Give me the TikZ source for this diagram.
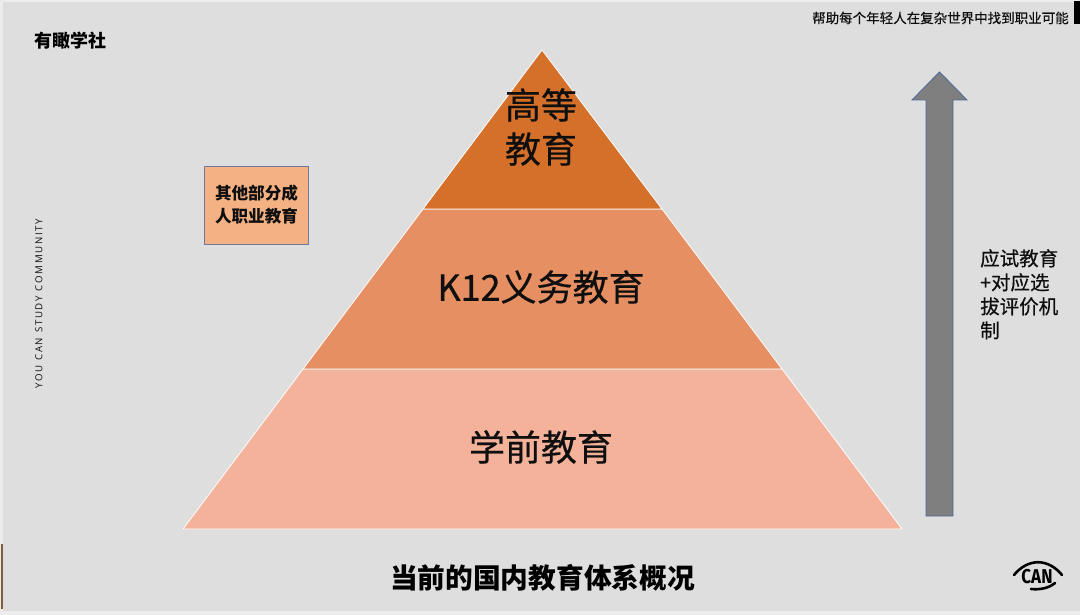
\documentclass[tikz,border=0pt]{standalone}
\usepackage{fontspec}
\usepackage[usenames,svgnames]{xcolor}
\usepackage{tikz}
\usetikzlibrary{positioning,arrows}
\setmainfont{Noto Sans CJK SC}
\newfontfamily\medfont[FakeBold=0.5]{Noto Sans CJK SC}
\newfontfamily\canfont{Fira Sans}
\newfontfamily\latinfont{Open Sans}
\definecolor{colorpage}  {RGB}{222,222,222}
\definecolor{coloredge}  {RGB}{236,236,236}
\definecolor{colortop}   {RGB}{213,112,43 }
\definecolor{colormid}   {RGB}{230,143,98 }
\definecolor{colorlow}   {RGB}{244,178,155}
\definecolor{colorbox}   {RGB}{244,177,131}
\definecolor{colorline}  {RGB}{112,120,160}
\definecolor{colorarrow} {RGB}{127,127,127}
\definecolor{colorborder}{RGB}{80 ,105,160}
\definecolor{colorbrown} {RGB}{125,95 ,60 }
\definecolor{colortext}  {RGB}{15 ,15 ,15 }

\begin{document}
\begin{tikzpicture}[
    x=1pt, y=-1pt,
    tier/.style={draw=white,line width=0.8pt,line join=round},
    txt/.style={text=colortext,inner sep=0pt,align=center},
    big/.style={txt,font={\fontsize{36}{44}\selectfont\medfont}},
]
    \useasboundingbox (0,0) rectangle (1080,615);
    \fill[coloredge] (0,0) rectangle (1080,615);
    \fill[colorpage] (3,2) rectangle (1080,611);

    % pyramid
    \coordinate (apex) at (542,50);
    \coordinate (topL) at (423,209);
    \coordinate (topR) at (662,209);
    \coordinate (midL) at (303,369);
    \coordinate (midR) at (782,369);
    \coordinate (lowL) at (183,529);
    \coordinate (lowR) at (902,529);
    \filldraw[tier,fill=colorlow] (midL) -- (midR) -- (lowR) -- (lowL) -- cycle;
    \filldraw[tier,fill=colormid] (topL) -- (topR) -- (midR) -- (midL) -- cycle;
    \filldraw[tier,fill=colortop] (apex) -- (topR) -- (topL) -- cycle;

    \node[big] at (541,127) (higher) {高等\\教育};
    \node[big] at (541,287) (basic)  {K12义务教育};
    \node[big] at (541,447) (pre)    {学前教育};

    % side box
    \node[draw=colorline,fill=colorbox,minimum width=104pt,minimum height=78pt,inner sep=0pt,
          text=colortext,align=center,font={\fontsize{16.6}{23}\selectfont\bfseries}]
          at (256.5,205) (adult) {其他部分成\\人职业教育};

    % rising arrow
    \filldraw[draw=colorborder,fill=colorarrow,line width=0.9pt]
        (939.5,72) -- (967,100) -- (953,100) -- (953,516) -- (926,516) -- (926,100) -- (912,100) -- cycle;
    \node[txt,align=left,anchor=north west,font={\fontsize{19.5}{24}\selectfont\medfont}]
        at (980,249) (exam) {应试教育\\+对应选\\拔评价机\\制};

    % header and footer
    \node[txt,anchor=west,font={\fontsize{13.5}{16}\selectfont\medfont}] at (812,18) (slogan)
        {帮助每个年轻人在复杂世界中找到职业可能};
    \fill[black] (1074,1) rectangle (1080,24);
    \node[txt,text=black,anchor=west,font={\fontsize{18}{22}\selectfont\bfseries}] at (34,41) (brand) {有瞰学社};
    \node[txt,rotate=90,font={\fontsize{9.7}{10}\selectfont\latinfont}] at (39,304) (community)
        {Y\,O\,U\ \ C\,A\,N\ \ S\,T\,U\,D\,Y\ \ C\,O\,M\,M\,U\,N\,I\,T\,Y};
    \node[txt,text=black,font={\fontsize{27.7}{32}\selectfont\bfseries}] at (542.5,578) (title)
        {当前的国内教育体系概况};
    \fill[colorbrown] (1,544) rectangle (3,609);

    % logo
    \node[txt,text=black,xscale=0.85,font={\fontsize{20}{20}\selectfont\canfont\bfseries}] at (1037,576.5) (can) {CAN};
    \draw[black,line width=2.6pt,line cap=round] (1014,575) .. controls (1028,558) and (1048,558) .. (1062,575);
    \draw[black,line width=2.6pt,line cap=round] (1031,589) .. controls (1040,590) and (1049,588) .. (1055,583);
\end{tikzpicture}
\end{document}
